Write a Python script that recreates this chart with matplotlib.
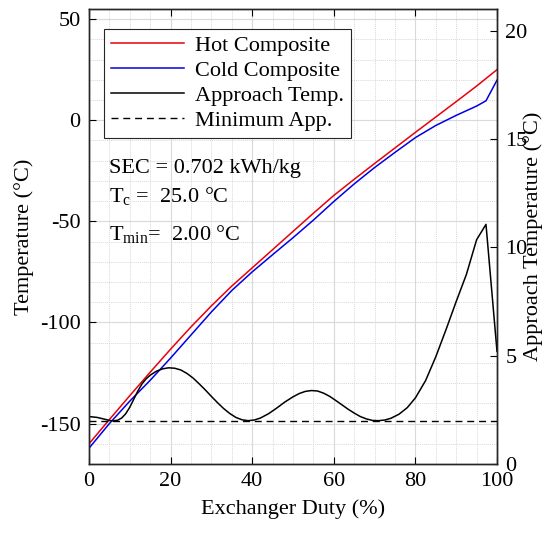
import matplotlib
matplotlib.use("Agg")
import matplotlib.pyplot as plt
from matplotlib.ticker import MultipleLocator

plt.rcParams['font.family'] = ['Liberation Serif', 'DejaVu Serif']
plt.rcParams['mathtext.fontset'] = 'custom'
plt.rcParams['mathtext.rm'] = 'Liberation Serif'
plt.rcParams['font.size'] = 16
plt.rcParams['axes.unicode_minus'] = False

# hot composite curve (duty %, temperature degC)
hot_duty = [0, 5, 10, 15, 20, 25, 30, 35, 40, 45, 50, 55, 60, 65, 70,
            75, 80, 85, 90, 95, 100]
hot_temp = [-160, -148, -136.2, -124.6, -113.2, -102.2, -91.8, -82, -73,
            -64, -55, -46, -37.2, -29.2, -21.4, -13.7, -6, 1.6, 9.2, 16.9, 25]

# cold composite curve
cold_duty = [0, 5, 10, 15, 20, 25, 30, 35, 40, 45, 50, 55, 60, 65, 70,
             75, 80, 85, 90, 95, 97.3, 100]
cold_temp = [-162.2, -150.0, -138.9, -128.6, -117.6, -106.2, -94.8, -84.2,
             -75.0, -66.5, -58.1, -49.4, -40.2, -31.5, -23.4, -15.9, -8.6,
             -2.6, 2.4, 7.0, 9.6, 19.8]

# approach temperature (right axis)
app_duty = [0, 2, 4, 5, 6, 7, 8, 9, 10, 11, 12, 13, 14, 15, 16.5, 18, 19.5,
            21, 22.5, 24, 25.5, 27, 28.5, 30, 31.5, 33, 34.5, 36, 37.5, 39,
            40.5, 42, 44, 46, 48, 50, 51.5, 53, 54.5, 56, 57.5, 59, 60.5, 62,
            63.5, 65, 66.5, 68, 69.5, 71, 72.5, 74, 76, 78, 80, 82.5, 85,
            87.5, 90, 92.5, 95, 97.3, 100]
app_temp = [2.19, 2.15, 2.06, 2.01, 1.99, 2.02, 2.12, 2.32, 2.62, 3.0, 3.38,
            3.7, 3.93, 4.1, 4.28, 4.39, 4.44, 4.42, 4.34, 4.18, 3.97, 3.7,
            3.42, 3.12, 2.83, 2.56, 2.33, 2.15, 2.04, 2.0, 2.03, 2.12, 2.32,
            2.58, 2.86, 3.1, 3.25, 3.35, 3.39, 3.37, 3.27, 3.12, 2.93, 2.73,
            2.53, 2.35, 2.19, 2.08, 2.01, 2.0, 2.03, 2.11, 2.3, 2.6, 3.05,
            3.85, 4.95, 6.2, 7.5, 8.75, 10.35, 11.06, 5.2]

min_app = 2.0

fig = plt.figure(figsize=(5.5, 5.38), dpi=100)
ax = fig.add_axes([89 / 550, 1 - 464 / 538, 408 / 550, 455 / 538])
ax2 = ax.twinx()

h1, = ax.plot(hot_duty, hot_temp, color='#e8000b', lw=1.1, label='Hot Composite')
h2, = ax.plot(cold_duty, cold_temp, color='#0000e6', lw=1.1, label='Cold Composite')
h3, = ax2.plot(app_duty, app_temp, color='black', lw=1.1, label='Approach Temp.')
h4, = ax2.plot([0, 100], [min_app, min_app], color='black', lw=1.0,
               dashes=(5, 3.5), label='Minimum App.')

ax.set_xlim(0, 100)
ax.set_ylim(-170, 55)
ax2.set_ylim(0, 21)

ax.xaxis.set_major_locator(MultipleLocator(20))
ax.xaxis.set_minor_locator(MultipleLocator(5))
ax.yaxis.set_major_locator(MultipleLocator(50))
ax.yaxis.set_minor_locator(MultipleLocator(10))
ax2.yaxis.set_major_locator(MultipleLocator(5))

ax.grid(True, which='major', color='#d9d9d9', lw=0.8)
ax.grid(True, which='minor', color='#d9d9d9', lw=0.7, ls=(0, (1, 1)))
ax.set_axisbelow(True)

ax.tick_params(which='major', direction='in', length=5, top=True, right=False,
               width=0.8, pad=6)
ax.tick_params(which='minor', length=0)
ax2.tick_params(which='major', direction='in', length=5, width=0.8, pad=6)
for a in (ax, ax2):
    for s in a.spines.values():
        s.set_color('#262626')
        s.set_linewidth(1.0)

ax.set_xlabel('Exchanger Duty (%)', labelpad=6)
ax.set_ylabel('Temperature (°C)')
ax.yaxis.set_label_coords(-0.135, 0.5)
ax2.set_ylabel('Approach Temperature (°C)', rotation=90)
ax2.yaxis.set_label_coords(1.065, 0.5)

leg = ax2.legend(handles=[h1, h2, h3, h4], loc='upper left',
                 bbox_to_anchor=(0.037, 0.956), borderaxespad=0,
                 handlelength=3.3, handletextpad=0.5, labelspacing=0.2,
                 borderpad=0.3, fancybox=False, framealpha=1,
                 edgecolor='#262626')
leg.get_frame().set_linewidth(0.8)

ax.text(0.048, 0.64, 'SEC = 0.702 kWh/kg', transform=ax.transAxes)
ax.text(0.048, 0.576, r'T$_\mathrm{c}$ =  25.0 °C', transform=ax.transAxes)
ax.text(0.048, 0.492, r'T$_\mathrm{min}$=  2.00 °C', transform=ax.transAxes)

fig.savefig('out.png', dpi=100)
